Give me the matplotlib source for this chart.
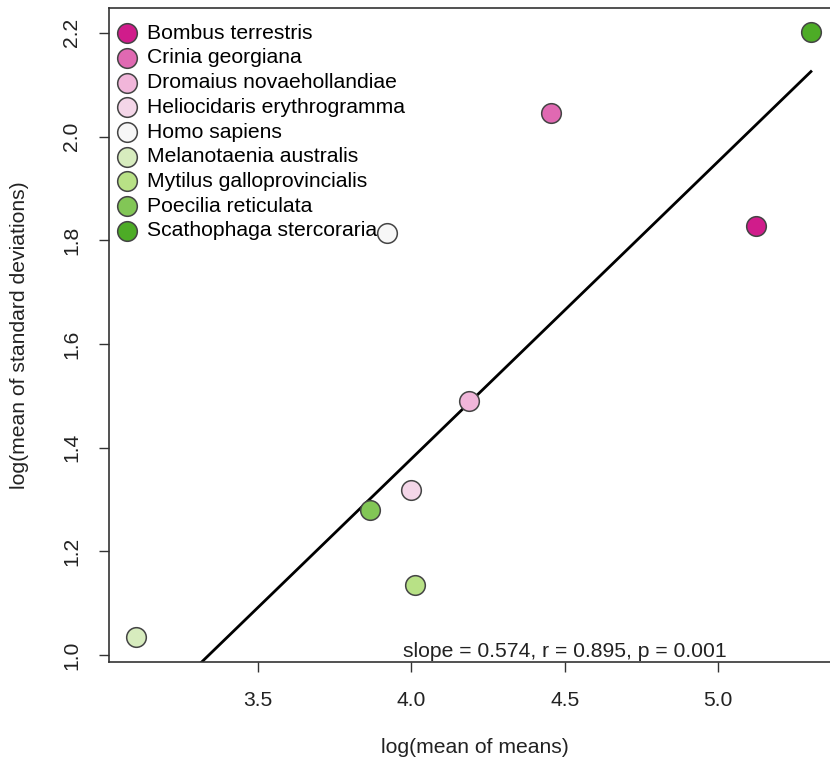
import matplotlib
matplotlib.use("Agg")
import matplotlib.pyplot as plt

plt.rcParams['font.family'] = ['Liberation Sans', 'DejaVu Sans']

# species and their values
species = ["Bombus terrestris", "Crinia georgiana", "Dromaius novaehollandiae",
           "Heliocidaris erythrogramma", "Homo sapiens", "Melanotaenia australis",
           "Mytilus galloprovincialis", "Poecilia reticulata", "Scathophaga stercoraria"]
log_mean = [5.123, 4.455, 4.188, 4.000, 3.922, 3.104, 4.013, 3.867, 5.302]
log_sd = [1.828, 2.046, 1.490, 1.318, 1.814, 1.035, 1.135, 1.280, 2.202]
colors = ["#D01C8B", "#E069B2", "#F1B6DA", "#F4D6E8", "#F7F7F7",
          "#D7ECBE", "#B8E186", "#82C656", "#4DAC26"]

# fitted line
slope = 0.574
intercept = -0.918
stats_text = "slope = 0.574, r = 0.895, p = 0.001"

FS = 15.2

fig = plt.figure(figsize=(8.3, 7.67), dpi=100)
ax = fig.add_axes([0.1313, 0.1369, 0.882, 0.8527])

for name, x, y, c in zip(species, log_mean, log_sd, colors):
    ax.scatter(x, y, s=200, color=c, edgecolor="#444444", linewidth=1.1,
               zorder=3, label=name)

x0, x1 = min(log_mean), max(log_mean)
ax.plot([x0, x1], [slope * x0 + intercept, slope * x1 + intercept],
        color="black", lw=2, zorder=2)

ax.text(4.5, 1.006, stats_text, ha="center", va="center", fontsize=FS,
        color="#222222")

ax.set_xlim(3.016, 5.40)
ax.set_ylim(0.9865, 2.248)
ax.set_xticks([3.5, 4.0, 4.5, 5.0])
ax.set_yticks([1.0, 1.2, 1.4, 1.6, 1.8, 2.0, 2.2])
ax.set_xticklabels(["3.5", "4.0", "4.5", "5.0"])
ax.set_yticklabels(["1.0", "1.2", "1.4", "1.6", "1.8", "2.0", "2.2"],
                   rotation=90, va="center")
ax.tick_params(direction="out", length=7, width=1, colors="#333333",
               labelcolor="#222222", labelsize=FS)
ax.tick_params(axis="x", pad=14)
ax.tick_params(axis="y", pad=13)
for sp in ax.spines.values():
    sp.set_color("#333333")
    sp.set_linewidth(1.2)

ax.set_xlabel("log(mean of means)", fontsize=FS, labelpad=20, color="#222222")
ax.set_ylabel("log(mean of standard deviations)", fontsize=FS, labelpad=24,
              color="#222222")

ax.legend(loc="upper left", bbox_to_anchor=(0, 0.9824), frameon=False,
          fontsize=FS, handletextpad=0.3, labelspacing=0.27, borderaxespad=0,
          borderpad=0.2, handlelength=1.3, scatterpoints=1)

fig.savefig("out.png", dpi=100)
